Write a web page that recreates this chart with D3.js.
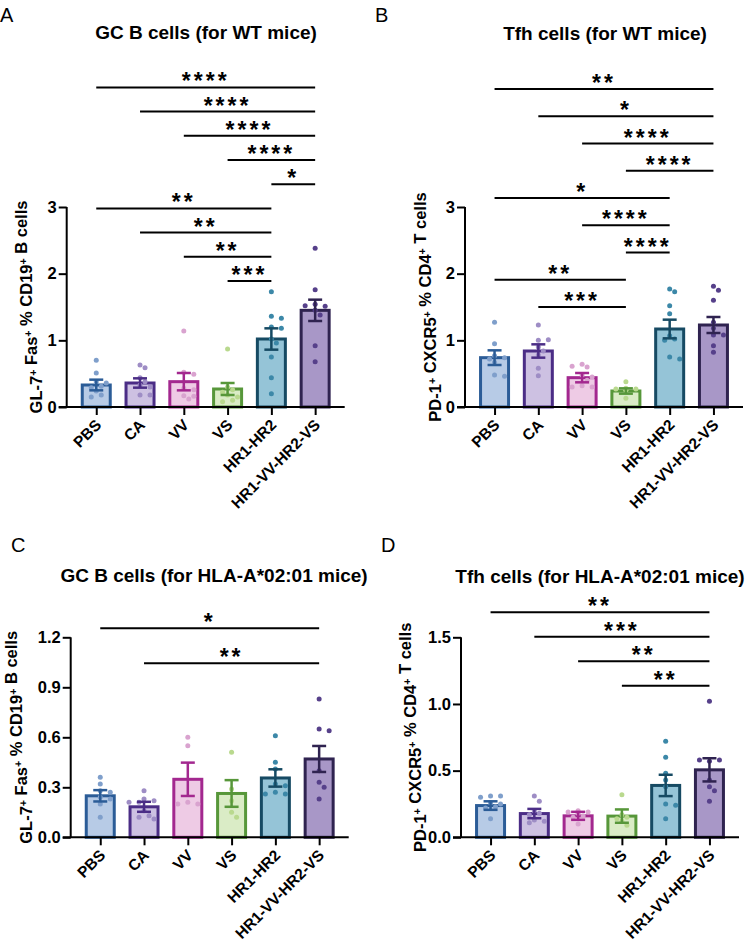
<!DOCTYPE html>
<html>
<head>
<meta charset="utf-8">
<script src="https://cdn.jsdelivr.net/npm/d3@7"></script>
<style>
  body { margin: 0; background: #fff; }
  text { font-family: "Liberation Sans", Arial, sans-serif; }
</style>
</head>
<body>
<svg id="chart"></svg>
<script>
// groups on the x axis (same for every panel)
let groups = ['PBS', 'CA', 'VV', 'VS', 'HR1-HR2', 'HR1-VV-HR2-VS']

// bar colours: fill, outline, dots
let fills = ['#b7cbe6', '#cdc1e2', '#eecbe5', '#daecc6', '#95c4d7', '#a897c7']
let strokes = ['#2b5c97', '#4b2d86', '#a3288f', '#57973a', '#164a63', '#2f2350']
let dotColors = ['#7f9fcb', '#9e8dc5', '#d9a3cf', '#b9d98e', '#3c88a8', '#56408a']

// A - GC B cells, WT mice
let gcWtMean = [0.33, 0.36, 0.38, 0.27, 1.02, 1.45]
let gcWtSem = [0.08, 0.07, 0.13, 0.09, 0.16, 0.16]
let gcWtPoints = [
  [0.70, 0.51, 0.38, 0.36, 0.31, 0.29, 0.24, 0.18, 0.15],
  [0.63, 0.59, 0.44, 0.38, 0.33, 0.30, 0.18, 0.18],
  [1.14, 0.52, 0.49, 0.28, 0.26, 0.17, 0.16, 0.12],
  [0.87, 0.30, 0.26, 0.22, 0.18, 0.15, 0.10, 0.08],
  [1.73, 1.36, 1.33, 1.20, 1.18, 1.02, 0.96, 0.75, 0.44, 0.20],
  [2.38, 1.76, 1.54, 1.51, 1.52, 1.45, 1.38, 0.92, 0.68]
]
let gcWtTicks = [0, 1, 2, 3]
// comparisons from lowest bracket to highest: [from, to, stars]
let gcWtSig = [[3, 4, '***'], [2, 4, '**'], [1, 4, '**'], [0, 4, '**'], [4, 5, '*'],
  [3, 5, '****'], [2, 5, '****'], [1, 5, '****'], [0, 5, '****']]

// B - Tfh cells, WT mice
let tfhWtMean = [0.74, 0.84, 0.44, 0.24, 1.17, 1.23]
let tfhWtSem = [0.11, 0.10, 0.07, 0.04, 0.14, 0.12]
let tfhWtPoints = [
  [1.27, 0.95, 0.77, 0.74, 0.72, 0.67, 0.48, 0.46],
  [1.23, 1.00, 1.01, 0.90, 0.84, 0.78, 0.58, 0.47],
  [0.64, 0.60, 0.61, 0.48, 0.45, 0.40, 0.32, 0.30, 0.30],
  [0.38, 0.28, 0.27, 0.27, 0.25, 0.26, 0.13],
  [1.77, 1.73, 1.52, 1.40, 1.07, 1.02, 1.00, 0.75, 0.72],
  [1.81, 1.75, 1.60, 1.27, 1.18, 1.08, 1.08, 0.92, 0.82]
]
let tfhWtTicks = [0, 1, 2, 3]
let tfhWtSig = [[1, 3, '***'], [0, 3, '**'], [3, 4, '****'], [2, 4, '****'], [0, 4, '*'],
  [3, 5, '****'], [2, 5, '****'], [1, 5, '*'], [0, 5, '**']]

// C - GC B cells, HLA-A*02:01 mice
let gcHlaMean = [0.249, 0.183, 0.348, 0.263, 0.356, 0.47]
let gcHlaSem = [0.034, 0.030, 0.100, 0.080, 0.052, 0.078]
let gcHlaPoints = [
  [0.36, 0.32, 0.28, 0.27, 0.24, 0.23, 0.20, 0.12],
  [0.28, 0.23, 0.22, 0.21, 0.21, 0.16, 0.13, 0.12, 0.11],
  [0.60, 0.55, 0.21, 0.20, 0.20],
  [0.51, 0.29, 0.22, 0.15, 0.12],
  [0.61, 0.45, 0.41, 0.32, 0.31, 0.27, 0.26, 0.26],
  [0.83, 0.65, 0.64, 0.40, 0.33, 0.30, 0.23]
]
let gcHlaTicks = [0, 0.3, 0.6, 0.9, 1.2]
let gcHlaSig = [[1, 5, '**'], [0, 5, '*']]

// D - Tfh cells, HLA-A*02:01 mice
let tfhHlaMean = [0.238, 0.178, 0.161, 0.159, 0.389, 0.506]
let tfhHlaSem = [0.032, 0.035, 0.030, 0.050, 0.080, 0.087]
let tfhHlaPoints = [
  [0.31, 0.31, 0.30, 0.26, 0.25, 0.23, 0.22, 0.14],
  [0.31, 0.27, 0.20, 0.18, 0.17, 0.13, 0.12, 0.11],
  [0.20, 0.19, 0.19, 0.18, 0.16, 0.15, 0.10],
  [0.32, 0.17, 0.15, 0.14, 0.12, 0.09],
  [0.72, 0.60, 0.48, 0.43, 0.38, 0.25, 0.24, 0.14],
  [1.02, 0.57, 0.58, 0.58, 0.43, 0.38, 0.35, 0.27]
]
let tfhHlaTicks = [0, 0.5, 1.0, 1.5]
let tfhHlaSig = [[3, 5, '**'], [2, 5, '**'], [1, 5, '***'], [0, 5, '**']]

let gcLabel = [['GL-7', 0], ['+', 1], [' Fas', 0], ['+', 1], [' % CD19', 0], ['+', 1], [' B cells', 0]]
let tfhLabel = [['PD-1', 0], ['+', 1], [' CXCR5', 0], ['+', 1], [' % CD4', 0], ['+', 1], [' T cells', 0]]

let width = 750
let height = 944
let plotW = 278
let plotH = 200

let panels = [
  { letter: 'A', lx: 0, ly: 22, title: 'GC B cells (for WT mice)', tx: 206, ty: 38.5,
    left: 66.7, bottom: 407, ticks: gcWtTicks, fmt: d3.format('d'), label: gcLabel, labelX: 42,
    mean: gcWtMean, sem: gcWtSem, pts: gcWtPoints, sig: gcWtSig, sigBase: 281, sigStep: 24.2 },
  { letter: 'B', lx: 375, ly: 22, title: 'Tfh cells (for WT mice)', tx: 605, ty: 40,
    left: 465, bottom: 407, ticks: tfhWtTicks, fmt: d3.format('d'), label: tfhLabel, labelX: 441,
    mean: tfhWtMean, sem: tfhWtSem, pts: tfhWtPoints, sig: tfhWtSig, sigBase: 307, sigStep: 27.25 },
  { letter: 'C', lx: 11, ly: 552, title: 'GC B cells (for HLA-A*02:01 mice)', tx: 214, ty: 582,
    left: 70.7, bottom: 837.3, ticks: gcHlaTicks, fmt: d3.format('.1f'), label: gcLabel, labelX: 32,
    mean: gcHlaMean, sem: gcHlaSem, pts: gcHlaPoints, sig: gcHlaSig, sigBase: 663.3, sigStep: 35 },
  { letter: 'D', lx: 381, ly: 552, title: 'Tfh cells (for HLA-A*02:01 mice)', tx: 600, ty: 583,
    left: 461, bottom: 837.3, ticks: tfhHlaTicks, fmt: d3.format('.1f'), label: tfhLabel, labelX: 426,
    mean: tfhHlaMean, sem: tfhHlaSem, pts: tfhHlaPoints, sig: tfhHlaSig, sigBase: 685.7, sigStep: 24.5 }
]

let svg = d3.select('#chart')
  .attr('width', width)
  .attr('height', height)

// spread dots sideways so they don't sit on top of each other
let swarm = (vals, y, cx) => {
  let placed = []
  let offs = [0, 5, -5, 10, -10, 15, -15]
  return vals.map(v => {
    let py = y(v)
    for (let o of offs) {
      let px = cx + o
      if (placed.every(p => Math.hypot(p[0] - px, p[1] - py) >= 5.5)) {
        placed.push([px, py])
        return [px, py]
      }
    }
    placed.push([cx, py])
    return [cx, py]
  })
}

let drawPanel = (p) => {
  let x = d3.scalePoint()
    .domain(groups)
    .range([p.left, p.left + plotW])
    .padding(0.675)
  let y = d3.scaleLinear()
    .domain([0, p.ticks[p.ticks.length - 1]])
    .range([p.bottom, p.bottom - plotH])

  let g = svg.append('g')

  // panel letter + title
  g.append('text')
    .attr('x', p.lx).attr('y', p.ly)
    .style('font-size', '20px')
    .text(p.letter)
  g.append('text')
    .attr('x', p.tx).attr('y', p.ty)
    .attr('text-anchor', 'middle')
    .style('font-size', '19px').style('font-weight', 'bold')
    .text(p.title)

  let barW = 28
  let idx = d3.range(groups.length)

  // bars
  g.selectAll('rect.bar')
    .data(idx)
    .enter()
    .append('rect')
    .attr('class', 'bar')
    .attr('x', i => x(groups[i]) - barW / 2)
    .attr('width', barW)
    .attr('y', i => y(p.mean[i]))
    .attr('height', i => y(0) - y(p.mean[i]))
    .attr('fill', i => fills[i])
    .attr('stroke', i => strokes[i])
    .attr('stroke-width', 3)

  // dots
  idx.forEach(i => {
    let pos = swarm(p.pts[i], y, x(groups[i]))
    g.selectAll(null)
      .data(pos)
      .enter()
      .append('circle')
      .attr('cx', d => d[0])
      .attr('cy', d => d[1])
      .attr('r', 2.5)
      .attr('fill', dotColors[i])
  })

  // error bars (mean +/- sem)
  let cap = 7
  idx.forEach(i => {
    let cx = x(groups[i])
    let lo = y(p.mean[i] - p.sem[i])
    let hi = y(p.mean[i] + p.sem[i])
    let eb = g.append('g')
      .attr('stroke', strokes[i])
      .attr('stroke-width', 2.5)
    eb.append('line').attr('x1', cx).attr('x2', cx).attr('y1', lo).attr('y2', hi)
    eb.append('line').attr('x1', cx - cap).attr('x2', cx + cap).attr('y1', hi).attr('y2', hi)
    eb.append('line').attr('x1', cx - cap).attr('x2', cx + cap).attr('y1', lo).attr('y2', lo)
  })

  // axes
  let yAxis = g.append('g')
    .attr('transform', `translate(${p.left},0)`)
    .call(d3.axisLeft(y).tickValues(p.ticks).tickFormat(p.fmt).tickSize(8).tickPadding(2))
  let xAxis = g.append('g')
    .attr('transform', `translate(0,${p.bottom})`)
    .call(d3.axisBottom(x).tickSize(8).tickSizeOuter(0).tickFormat(''))
  xAxis.select('.domain').attr('d', `M${p.left - 8},0H${p.left + plotW}`)
  yAxis.select('.domain').attr('d', `M0,${p.bottom}V${p.bottom - plotH}`)
  ;[xAxis, yAxis].forEach(a => {
    a.select('.domain').attr('stroke', '#000').attr('stroke-width', 2)
    a.selectAll('.tick line').attr('stroke', '#000').attr('stroke-width', 2)
  })
  yAxis.selectAll('.tick text')
    .style('font-size', '16.5px').style('font-weight', 'bold')
    .attr('fill', '#000')
    .attr('font-family', null)

  // rotated category labels
  g.selectAll('text.xlab')
    .data(groups)
    .enter()
    .append('text')
    .attr('class', 'xlab')
    .attr('text-anchor', 'end')
    .attr('transform', d => `translate(${x(d) + 6},${p.bottom + 19}) rotate(-45)`)
    .style('font-size', '15.5px').style('font-weight', 'bold')
    .text(d => d)

  // y axis title with superscripts
  let yl = g.append('text')
    .attr('text-anchor', 'middle')
    .attr('transform', `translate(${p.labelX},${p.bottom - plotH / 2}) rotate(-90)`)
    .style('font-size', '16.5px').style('font-weight', 'bold')
  p.label.forEach(part => {
    yl.append('tspan')
      .attr('dy', part[1] ? -5 : 0)
      .style('font-size', part[1] ? '10.5px' : null)
      .text(part[0])
    if (part[1]) yl.append('tspan').attr('dy', 5).text('')
  })

  // significance brackets
  let sig = g.selectAll('g.sig')
    .data(p.sig)
    .enter()
    .append('g')
    .attr('class', 'sig')
  sig.append('line')
    .attr('x1', d => x(groups[d[0]]))
    .attr('x2', d => x(groups[d[1]]))
    .attr('y1', (d, k) => p.sigBase - k * p.sigStep)
    .attr('y2', (d, k) => p.sigBase - k * p.sigStep)
    .attr('stroke', '#000')
    .attr('stroke-width', 2)
  sig.append('text')
    .attr('x', d => (x(groups[d[0]]) + x(groups[d[1]])) / 2)
    .attr('y', (d, k) => p.sigBase - k * p.sigStep + 2)
    .attr('text-anchor', 'middle')
    .style('font-size', '23px').style('font-weight', 'bold')
    .style('letter-spacing', '3px')
    .text(d => d[2])
}

panels.forEach(drawPanel)
</script>
</body>
</html>
